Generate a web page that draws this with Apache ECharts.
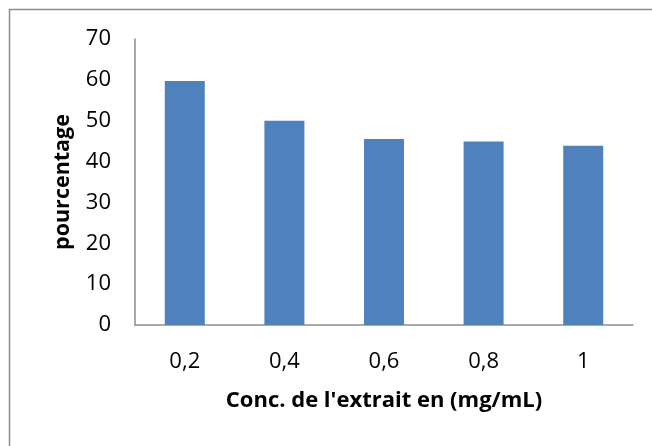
<!DOCTYPE html>
<html>
<head>
<meta charset="utf-8">
<script src="https://cdn.jsdelivr.net/npm/echarts@6/dist/echarts.min.js"></script>
<style>
  html, body { margin: 0; padding: 0; background: #fff; }
  #chart { width: 652px; height: 446px; }
</style>
</head>
<body>
<div id="chart"></div>
<script>
// Extract concentrations (mg/mL) and measured percentages
const categories = ['0,2', '0,4', '0,6', '0,8', '1'];
const percentages = [59.7, 50.0, 45.5, 44.9, 43.9];
const yTicks = { min: 0, max: 70, interval: 10 };

const chart = echarts.init(document.getElementById('chart'), null, { renderer: 'canvas' });

chart.setOption({
  animation: false,
  backgroundColor: '#ffffff',
  graphic: [{
    type: 'rect',
    shape: { x: 9.5, y: 9.5, width: 700, height: 500 },
    style: { fill: 'none', stroke: '#8c8c8c', lineWidth: 1.5 },
    silent: true
  }],
  grid: { left: 135, right: 19, top: 39, bottom: 121 },
  xAxis: {
    type: 'category',
    data: categories,
    name: "Conc. de l'extrait en (mg/mL)",
    nameLocation: 'middle',
    nameGap: 65,
    nameTextStyle: { fontFamily: 'Open Sans', fontWeight: 'bold', fontSize: 22, color: '#000' },
    axisLine: { lineStyle: { color: '#8c8c8c', width: 1.5 } },
    axisTick: { show: false },
    axisLabel: { fontFamily: 'Open Sans', fontSize: 22, color: '#000', margin: 26 }
  },
  yAxis: {
    type: 'value',
    min: yTicks.min,
    max: yTicks.max,
    interval: yTicks.interval,
    name: 'pourcentage',
    nameLocation: 'middle',
    nameRotate: 90,
    nameGap: 61,
    nameTextStyle: { fontFamily: 'Open Sans', fontWeight: 'bold', fontSize: 21.5, color: '#000' },
    axisLine: { show: true, lineStyle: { color: '#8c8c8c', width: 1.5 } },
    axisTick: { show: false },
    splitLine: { show: false },
    axisLabel: { fontFamily: 'Open Sans', fontSize: 22, color: '#000', margin: 24 }
  },
  series: [{
    type: 'bar',
    data: percentages,
    barWidth: 40,
    itemStyle: { color: '#4f81bd' }
  }]
});
</script>
</body>
</html>
